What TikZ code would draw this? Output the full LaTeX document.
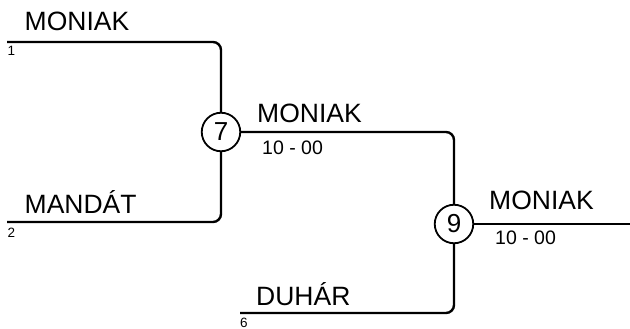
\documentclass[tikz,border=0pt]{standalone}
\usepackage{fontspec}
\setmainfont{Liberation Sans}
\begin{document}
\begin{tikzpicture}[x=1pt,y=-1pt,
  line/.style={line width=2.4pt,rounded corners=8pt},
  game/.style={circle,draw,line width=1.8pt,minimum size=38.5pt,inner sep=0pt,font=\fontsize{26}{26}\selectfont},
  team/.style={anchor=base west,inner sep=0pt,font=\fontsize{26.5}{27}\selectfont},
  seed/.style={anchor=base west,inner sep=0pt,font=\fontsize{13.5}{14}\selectfont},
  score/.style={anchor=base west,inner sep=0pt,font=\fontsize{19.5}{20}\selectfont}]
\useasboundingbox (0,0) rectangle (630,329);
\node[game] (g7) at (221,132) {7};
\node[game] (g9) at (454,224) {9};
\coordinate (s1) at (7,42);
\coordinate (s2) at (7,222);
\coordinate (s6) at (240,313);
\coordinate (out) at (630,224);
\draw[line] (s1) -| (g7);
\draw[line] (s2) -| (g7);
\draw[line] (g7) -| (g9);
\draw[line] (s6) -| (g9);
\draw[line] (g9) -- (out);
\node[team] (t1) at (24.5,31) {MONIAK};
\node[seed] (n1) at (7.5,56) {1};
\node[team] (t2) at (24.5,213) {MANDÁT};
\node[seed] (n2) at (7.5,237) {2};
\node[team] (t6) at (256,305) {DUHÁR};
\node[seed] (n6) at (240,327) {6};
\node[team] (t7) at (257,122) {MONIAK};
\node[score] (r7) at (262,154) {10 - 00};
\node[team] (t9) at (489,209) {MONIAK};
\node[score] (r9) at (495,244) {10 - 00};
\end{tikzpicture}
\end{document}
